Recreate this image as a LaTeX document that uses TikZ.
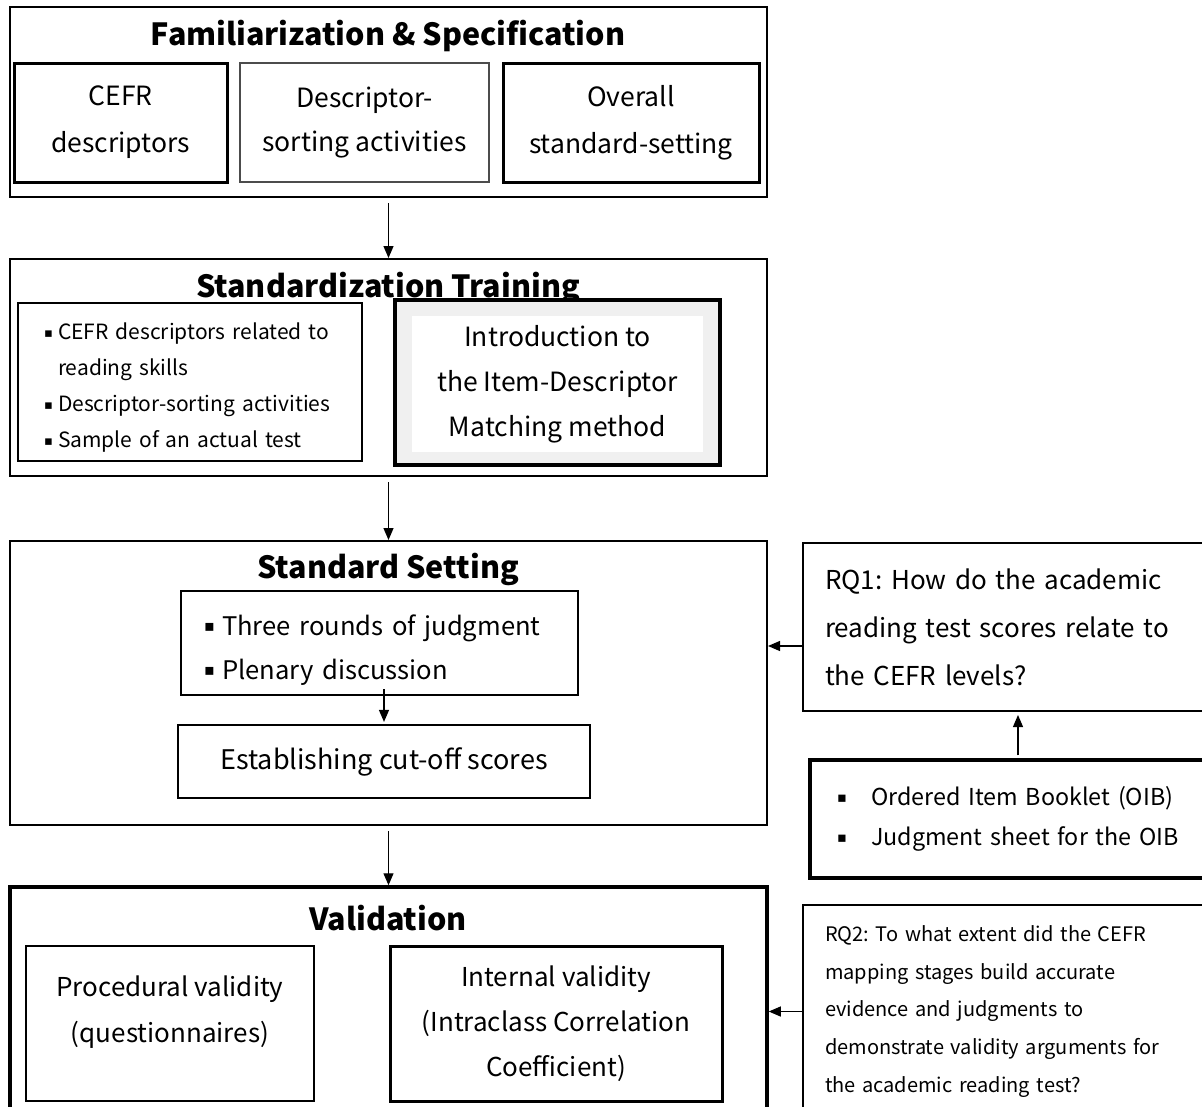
\documentclass[tikz,border=0pt]{standalone}
\usepackage{fontspec}
\setmainfont{Noto Sans CJK JP}
\newfontfamily\symfont{DejaVu Sans}
\usetikzlibrary{arrows.meta}
\frenchspacing
\newcommand{\bul}[1]{\makebox[#1][l]{\raisebox{0.12em}{\scalebox{0.62}{\symfont ▪}}}}

\begin{document}
\begin{tikzpicture}[x=1pt, y=-1pt,
	stage_style/.style={draw=black, line width=2pt, minimum width=757pt},
	title_style/.style={font=\fontsize{30.5}{33}\selectfont\bfseries},
	thick_style/.style={draw=black, line width=3pt, align=center},
	thin_style/.style={draw=black, line width=1.3pt, align=center},
	list_style/.style={draw=black, align=left},
	arrow_style/.style={draw=black, line width=1.2pt, -{Triangle[length=12pt,width=10pt]}}]
	\useasboundingbox (0,0) rectangle (1202,1106);
	\node[stage_style, minimum height=190pt] (fam) at (388.5,102) {};
	\node[title_style] (famT) at (388,36) {Familiarization \& Specification};
	\node[thick_style, minimum width=213pt, minimum height=119pt, font=\fontsize{26.5}{47}\selectfont] (cefr) at (120.5,122.5) {CEFR\\descriptors};
	\node[thin_style, draw=black!70, minimum width=249pt, minimum height=119pt, font=\fontsize{26.5}{44}\selectfont] (sorting) at (364.5,122.5) {Descriptor-\\sorting activities};
	\node[thick_style, minimum width=256pt, minimum height=119pt, font=\fontsize{26.5}{47}\selectfont] (overall) at (631,122.5) {Overall\\standard-setting};
	\node[stage_style, minimum height=217pt] (train) at (388.5,367.5) {};
	\node[title_style] (trainT) at (388,288) {Standardization Training};
	\node[list_style, line width=2.5pt, minimum width=344pt, minimum height=158pt, text width=292pt, inner xsep=26pt, font=\fontsize{21}{36}\selectfont] (reading) at (190,382) {\rule{0pt}{28pt}\bul{14pt}CEFR descriptors related to\\\hspace*{14pt}reading skills\\\bul{14pt}Descriptor-sorting activities\\\bul{14pt}Sample of an actual test};
	\node[draw=black, line width=3.5pt, fill=black!6, minimum width=325pt, minimum height=165pt] (intro) at (557.5,382.5) {};
	\node[fill=white, minimum width=291pt, minimum height=136pt, align=center, font=\fontsize{26.5}{45}\selectfont] (introIn) at (557.5,384) {Introduction to\\the Item-Descriptor\\Matching method};
	\node[stage_style, minimum height=284pt] (std) at (388.5,683) {};
	\node[title_style] (stdT) at (388,569) {Standard Setting};
	\node[list_style, line width=2.5pt, minimum width=397pt, minimum height=104pt, text width=351pt, inner xsep=23pt, font=\fontsize{25.6}{44}\selectfont] (rounds) at (379.5,643) {\rule{0pt}{34pt}\bul{18pt}Three rounds of judgment\\\bul{18pt}Plenary discussion};
	\node[thick_style, line width=2.2pt, minimum width=412pt, minimum height=73pt, font=\fontsize{27}{30}\selectfont] (cutoff) at (384,761.5) {Establishing cut-off scores};
	\node[stage_style, line width=3.5pt, minimum height=229pt] (val) at (388.5,1001.5) {};
	\node[title_style] (valT) at (388,918) {Validation};
	\node[thin_style, line width=1.8pt, minimum width=288pt, minimum height=155pt, font=\fontsize{26}{46}\selectfont] (proc) at (170,1023.5) {Procedural validity\\(questionnaires)\rule[-29pt]{0pt}{29pt}};
	\node[thick_style, minimum width=332pt, minimum height=155pt, font=\fontsize{26}{45}\selectfont] (internal) at (556,1023.5) {Internal validity\\(Intraclass Correlation\\Coefficient)};
	\node[list_style, line width=2pt, minimum width=412pt, minimum height=168pt, text width=368pt, inner xsep=22pt, font=\fontsize{26}{48}\selectfont] (rq1) at (1009,627) {RQ1: How do the academic\\reading test scores relate to\\the CEFR levels?};
	\node[list_style, line width=3.5pt, minimum width=405pt, minimum height=118pt, text width=351pt, inner xsep=27pt, font=\fontsize{23.3}{40}\selectfont] (oib) at (1012.5,819) {\bul{34pt}Ordered Item Booklet (OIB)\\\bul{34pt}Judgment sheet for the OIB};
	\node[list_style, line width=1.5pt, minimum width=412pt, minimum height=213pt, text width=368pt, inner xsep=22pt, font=\fontsize{20}{37.75}\selectfont] (rq2) at (1009,1011.5) {RQ2: To what extent did the CEFR\\mapping stages build accurate\\evidence and judgments to\\demonstrate validity arguments for\\the academic reading test?};
	\draw[arrow_style, shorten <=5pt] (fam) edge (train);
	\draw[arrow_style, shorten <=5pt] (train) edge (std);
	\draw[arrow_style, shorten <=5pt] (std) edge (val);
	\draw[arrow_style, shorten <=-7pt, shorten >=2pt] (rounds.south -| cutoff.north) -- (cutoff.north);
	\draw[arrow_style] ([yshift=-19pt]rq1.west) coordinate (rqa) -- (rqa -| std.east);
	\draw[arrow_style, shorten <=3pt, shorten >=3pt] ([xshift=5.5pt]oib.north) coordinate (oa) -- (oa |- rq1.south);
	\draw[arrow_style] (rq2.west) -- (rq2.west -| val.east);
\end{tikzpicture}
\end{document}
